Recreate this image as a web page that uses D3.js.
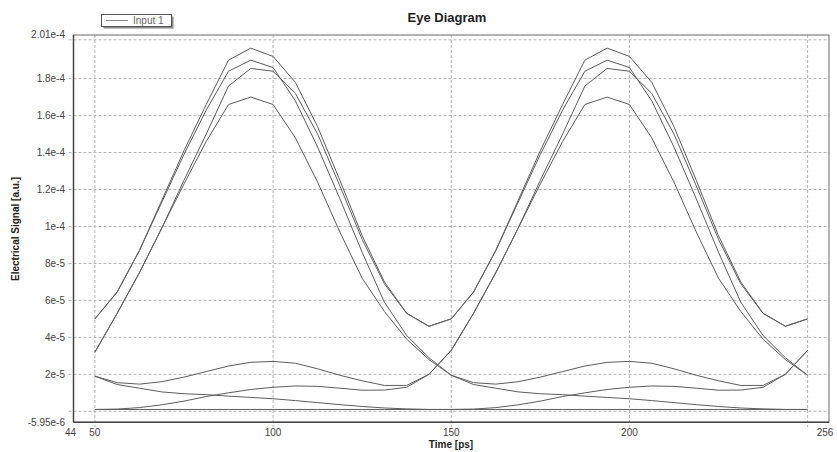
<!DOCTYPE html>
<html><head><meta charset="utf-8">
<script src="https://cdn.jsdelivr.net/npm/d3@7/dist/d3.min.js"></script>
<style>body{margin:0;background:#fff}svg{display:block}</style>
</head><body><svg id="c" width="837" height="452"></svg>
<script>
// ---- data (values in units of 1e-5 a.u.) ----
const unit = 1e-5;
const time = [50,56.25,62.5,68.75,75,81.25,87.5,93.75,100,106.25,112.5,118.75,125,131.25,137.5,143.75,150,
  156.25,162.5,168.75,175,181.25,187.5,193.75,200,206.25,212.5,218.75,225,231.25,237.5,243.75,250];
const trace0001 = [0.1,0.1,0.1,0.1,0.1,0.1,0.1,0.1,0.1,0.1,0.1,0.1,0.1,0.1,0.1,0.1,0.1,
  0.12,0.2,0.35,0.55,0.8,1.0,1.18,1.3,1.37,1.35,1.25,1.14,1.15,1.3,2.0,3.3];
const trace0010 = [0.1,0.12,0.2,0.35,0.55,0.8,1.0,1.18,1.3,1.37,1.35,1.25,1.14,1.15,1.3,2.0,3.3,
  5.3,7.5,9.9,12.3,14.6,16.6,17.0,16.6,14.8,12.4,9.7,7.2,5.4,3.9,2.8,1.95];
const trace0101 = [3.2,5.3,7.5,9.9,12.3,14.6,16.6,17.0,16.6,14.8,12.4,9.7,7.2,5.4,3.9,2.8,1.95,
  1.55,1.47,1.6,1.85,2.15,2.45,2.65,2.7,2.6,2.3,1.95,1.65,1.4,1.4,2.0,3.3];
const trace1011 = [1.9,1.55,1.47,1.6,1.85,2.15,2.45,2.65,2.7,2.6,2.3,1.95,1.65,1.4,1.4,2.0,3.3,
  5.3,7.5,9.9,12.5,15.0,17.6,18.55,18.4,17.2,15.0,12.2,9.3,6.9,5.3,4.6,5.0];
const trace0111 = [3.2,5.3,7.5,9.9,12.5,15.0,17.6,18.55,18.4,17.2,15.0,12.2,9.3,6.9,5.3,4.6,5.0,
  6.45,8.7,11.4,14.1,16.6,19.0,19.65,19.2,17.8,15.4,12.5,9.5,7.0,5.3,4.6,5.0];
const trace1110 = [5.0,6.45,8.7,11.4,14.1,16.6,19.0,19.65,19.2,17.8,15.4,12.5,9.5,7.0,5.3,4.6,5.0,
  6.45,8.7,11.3,13.9,16.3,18.4,19.0,18.6,16.8,14.3,11.5,8.6,5.9,4.1,2.9,1.95];
const trace1100 = [5.0,6.45,8.7,11.3,13.9,16.3,18.4,19.0,18.6,16.8,14.3,11.5,8.6,5.9,4.1,2.9,1.95,
  1.45,1.25,1.05,0.95,0.9,0.82,0.75,0.68,0.58,0.47,0.36,0.26,0.18,0.13,0.1,0.1];
const trace1000 = [1.9,1.45,1.25,1.05,0.95,0.9,0.82,0.75,0.68,0.58,0.47,0.36,0.26,0.18,0.13,0.1,0.1,
  0.1,0.1,0.1,0.1,0.1,0.1,0.1,0.1,0.1,0.1,0.1,0.1,0.1,0.1,0.1,0.1];
const traces = [trace0001,trace0010,trace0101,trace1011,trace0111,trace1110,trace1100,trace1000];

const xDomain = [44, 256];
const yDomain = [-5.95e-6, 2.01e-4];
const xGridVals = [50, 100, 150, 200, 250];
const xTickVals = [44, 50, 100, 150, 200, 256];
const xTickLabels = ["44", "50", "100", "150", "200", "256"];
const yGridVals = [0, 2e-5, 4e-5, 6e-5, 8e-5, 1e-4, 1.2e-4, 1.4e-4, 1.6e-4, 1.8e-4, 2.01e-4];
const yTickVals = [-5.95e-6, 2e-5, 4e-5, 6e-5, 8e-5, 1e-4, 1.2e-4, 1.4e-4, 1.6e-4, 1.8e-4, 2.01e-4];
const yTickLabels = ["-5.95e-6","2e-5","4e-5","6e-5","8e-5","1e-4","1.2e-4","1.4e-4","1.6e-4","1.8e-4","2.01e-4"];
const title = "Eye Diagram";
const xTitle = "Time [ps]";
const yTitle = "Electrical Signal [a.u.]";
const legendLabel = "Input 1";

// ---- layout ----
const F = "'Liberation Sans', Arial, Helvetica, sans-serif";
const svg = d3.select("#c");
const L = 73.5, R = 829, T = 35, B = 422.3;
const x = d3.scaleLinear().domain(xDomain).range([L, R]);
const y = d3.scaleLinear().domain(yDomain).range([B, 39.8]);

// grid (dashed, extended as tick marks)
const g = svg.append("g");
g.selectAll(".hg").data(yGridVals).join("line")
  .attr("x1", L - 5).attr("x2", R).attr("y1", d => y(d)).attr("y2", d => y(d))
  .attr("stroke", "#b4b4b4").attr("stroke-width", 1).attr("stroke-dasharray", "3,2");
g.selectAll(".vg").data(xGridVals).join("line")
  .attr("x1", d => x(d)).attr("x2", d => x(d)).attr("y1", T).attr("y2", B + 5)
  .attr("stroke", "#b4b4b4").attr("stroke-width", 1).attr("stroke-dasharray", "3,2");

// traces
const line = d3.line().x((d, i) => x(time[i])).y(d => y(d * unit));
svg.append("g").selectAll("path").data(traces).join("path")
  .attr("d", line).attr("fill", "none").attr("stroke", "#5e5e5e").attr("stroke-width", 1);

// frame
svg.append("rect").attr("x", L).attr("y", T).attr("width", R - L).attr("height", B - T)
  .attr("fill", "none").attr("stroke", "#6a6a6a").attr("stroke-width", 1);
svg.append("line").attr("x1", L).attr("x2", L).attr("y1", T).attr("y2", B)
  .attr("stroke", "#444").attr("stroke-width", 1.5);
svg.append("line").attr("x1", L).attr("x2", R).attr("y1", B).attr("y2", B)
  .attr("stroke", "#444").attr("stroke-width", 1.5);

// y tick labels
svg.append("g").selectAll("text").data(yTickVals).join("text")
  .attr("x", 65).attr("y", d => y(d)).attr("dy", (d, i) => i === yTickVals.length - 1 ? "-1.5" : "3.5")
  .attr("text-anchor", "end").attr("font-family", F).attr("font-size", 10).attr("fill", "#444")
  .text((d, i) => yTickLabels[i]);
// x tick labels
svg.append("g").selectAll("text").data(xTickVals).join("text")
  .attr("x", d => x(d)).attr("dx", (d, i) => i === 0 ? -3 : (i === xTickVals.length - 1 ? -4 : 0))
  .attr("y", 435.5).attr("text-anchor", "middle").attr("font-family", F).attr("font-size", 10).attr("fill", "#444")
  .text((d, i) => xTickLabels[i]);

// titles
svg.append("text").attr("x", 447).attr("y", 22).attr("text-anchor", "middle")
  .attr("font-family", F).attr("font-size", 13).attr("font-weight", "bold").attr("fill", "#222").text(title);
svg.append("text").attr("x", 451).attr("y", 447.5).attr("text-anchor", "middle")
  .attr("font-family", F).attr("font-size", 10).attr("font-weight", "bold").attr("fill", "#222").text(xTitle);
svg.append("text").attr("transform", "translate(19,229) rotate(-90)").attr("text-anchor", "middle")
  .attr("font-family", F).attr("font-size", 10).attr("font-weight", "bold").attr("fill", "#222").text(yTitle);

// legend
const lg = svg.append("g");
lg.append("rect").attr("x", 103.5).attr("y", 16.5).attr("width", 70).attr("height", 12).attr("fill", "#8a8a8a");
lg.append("rect").attr("x", 101.5).attr("y", 14.5).attr("width", 70).attr("height", 12)
  .attr("fill", "#fff").attr("stroke", "#555").attr("stroke-width", 1);
lg.append("line").attr("x1", 106).attr("x2", 128).attr("y1", 20.5).attr("y2", 20.5)
  .attr("stroke", "#888").attr("stroke-width", 1);
lg.append("text").attr("x", 133).attr("y", 24).attr("font-family", F).attr("font-size", 10)
  .attr("fill", "#666").text(legendLabel);
</script></body></html>
